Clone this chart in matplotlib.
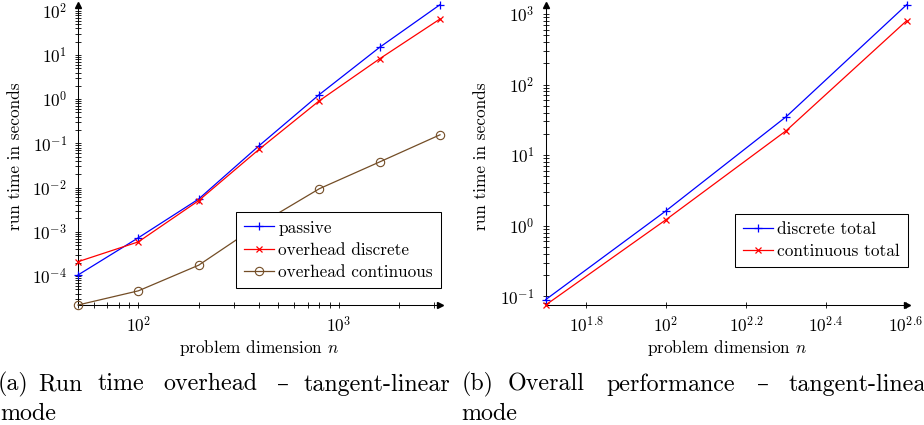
#!/usr/bin/env python3
import matplotlib
matplotlib.use('Agg')
import matplotlib.pyplot as plt
import matplotlib.ticker as mticker
import numpy as np

plt.rcParams['font.family'] = 'serif'
plt.rcParams['font.serif'] = ['cmr10', 'DejaVu Serif']
plt.rcParams['mathtext.fontset'] = 'cm'
plt.rcParams['axes.formatter.use_mathtext'] = True
plt.rcParams['axes.unicode_minus'] = False

## data, left panel (run time overhead)
n_left = [50, 100, 200, 400, 800, 1600, 3200]
passive = [1.05e-4, 7.3e-4, 5.5e-3, 0.088, 1.27, 14.9, 137.0]
overhead_discrete = [2.1e-4, 5.9e-4, 5.06e-3, 0.073, 0.92, 8.2, 65.0]
overhead_continuous = [2.2e-5, 4.6e-5, 1.75e-4, 1.45e-3, 9.4e-3, 0.038, 0.156]

## data, right panel (overall performance)
n_right = [50, 100, 200, 400]
discrete_total = [0.090, 1.63, 35.2, 1350.0]
continuous_total = [0.0755, 1.22, 22.3, 802.0]

right_xtick_exp = [1.8, 2.0, 2.2, 2.4, 2.6]
right_xtick_labels = ['$10^{1.8}$', '$10^{2}$', '$10^{2.2}$', '$10^{2.4}$', '$10^{2.6}$']

BROWN = '#734d26'
FS = 12.4
CAP_FS = 17.3
W, H = 924, 425


def log_label(v, pos):
    e = int(round(np.log10(v)))
    return '$10^{%d}$' % e


def style_axis(ax, xlabel_x):
    ax.set_xscale('log')
    ax.set_yscale('log')
    for s in ('top', 'right'):
        ax.spines[s].set_visible(False)
    for s in ('left', 'bottom'):
        ax.spines[s].set_linewidth(0.75)
    ax.tick_params(which='both', direction='inout', width=0.6, labelsize=FS)
    ax.tick_params(which='major', length=5)
    ax.tick_params(which='minor', length=5)
    ax.tick_params(axis='y', which='both', pad=5.4)
    ax.tick_params(axis='x', which='both', pad=4.5)
    ax.yaxis.set_major_locator(mticker.LogLocator(base=10, numticks=50))
    ax.yaxis.set_minor_locator(mticker.LogLocator(base=10, subs=np.arange(2, 10), numticks=50))
    ax.yaxis.set_major_formatter(mticker.FuncFormatter(log_label))
    ax.yaxis.set_minor_formatter(mticker.NullFormatter())
    ax.set_xlabel('problem dimension $n$', fontsize=FS)
    ax.set_ylabel('run time in seconds', fontsize=FS)
    ax.xaxis.set_label_coords(xlabel_x, -0.142)
    ax.xaxis.label.set_verticalalignment('center')
    ## axis arrows
    ax.plot(1, 0, marker='>', color='k', markersize=4, transform=ax.transAxes, clip_on=False)
    ax.plot(0, 1, marker='^', color='k', markersize=4, transform=ax.transAxes, clip_on=False)


def put_legend(ax, corner):
    leg = ax.legend(loc='lower right', bbox_to_anchor=(corner[0] / W, (H - corner[1]) / H),
                    bbox_transform=fig.transFigure, borderaxespad=0, fontsize=FS,
                    fancybox=False, framealpha=1, edgecolor='black', numpoints=1,
                    handlelength=1.75, handletextpad=0.27, borderpad=0.45, labelspacing=0.4)
    leg.get_frame().set_linewidth(0.75)
    leg.set_zorder(5)
    return leg


fig = plt.figure(figsize=(W / 100, H / 100), dpi=100)

ax1 = fig.add_axes([78 / W, (H - 305) / H, 362 / W, 300.3 / H])
ax2 = fig.add_axes([545.7 / W, (H - 305) / H, 361 / W, 300.3 / H])

## left panel
ax1.plot(n_left, passive, color='blue', marker='+', markersize=6, mew=0.9, lw=0.9,
         label='passive', clip_on=False, zorder=3)
ax1.plot(n_left, overhead_discrete, color='red', marker='x', markersize=4.5, mew=0.9, lw=0.9,
         label='overhead discrete', clip_on=False, zorder=3)
ax1.plot(n_left, overhead_continuous, color=BROWN, marker='o', markersize=6, mfc='none', mew=0.8,
         lw=0.9, label='overhead continuous', clip_on=False, zorder=3)
style_axis(ax1, 0.5)
ax1.set_xlim(50, 3200)
ax1.set_ylim(min(overhead_continuous), max(passive))
ax1.xaxis.set_major_locator(mticker.LogLocator(base=10, numticks=20))
ax1.xaxis.set_minor_locator(mticker.LogLocator(base=10, subs=np.arange(2, 10), numticks=20))
ax1.xaxis.set_major_formatter(mticker.FuncFormatter(log_label))
ax1.xaxis.set_minor_formatter(mticker.NullFormatter())
ax1.yaxis.set_label_coords(-0.174, 0.496)
ax1.yaxis.label.set_verticalalignment('center')
put_legend(ax1, (440.7, 287.7))

## right panel
ax2.plot(n_right, discrete_total, color='blue', marker='+', markersize=6, mew=0.9, lw=0.9,
         label='discrete total', clip_on=False, zorder=3)
ax2.plot(n_right, continuous_total, color='red', marker='x', markersize=4.5, mew=0.9, lw=0.9,
         label='continuous total', clip_on=False, zorder=3)
style_axis(ax2, 0.501)
ax2.set_xlim(50, 400)
ax2.set_ylim(min(continuous_total), max(discrete_total))
ax2.xaxis.set_major_locator(mticker.FixedLocator([10 ** e for e in right_xtick_exp]))
ax2.xaxis.set_major_formatter(mticker.FixedFormatter(right_xtick_labels))
ax2.xaxis.set_minor_locator(mticker.NullLocator())
ax2.yaxis.set_label_coords(-0.177, 0.496)
ax2.yaxis.label.set_verticalalignment('center')
put_legend(ax2, (907.7, 266.7))

## sub captions, justified by hand (word, left x in px)
cap_a1 = [('(a)', -2), ('Run', 38), ('time', 98), ('overhead', 163), ('\u2013', 277), ('tangent-linear', 303)]
cap_b1 = [('(b)', 461.7), ('Overall', 508), ('performance', 606.7), ('\u2013', 756.7), ('tangent-linear', 788.3)]
for word, x in cap_a1 + cap_b1:
    fig.text(x / W, 1 - 390.5 / H, word, fontsize=CAP_FS, ha='left', va='baseline',
             family=['cmr10', 'DejaVu Serif'])
for x in (0, 461.7):
    fig.text(x / W, 1 - 419.5 / H, 'mode', fontsize=CAP_FS, ha='left', va='baseline',
             family=['cmr10', 'DejaVu Serif'])

plt.savefig('out.png', dpi=100)
print('out.png generated')
